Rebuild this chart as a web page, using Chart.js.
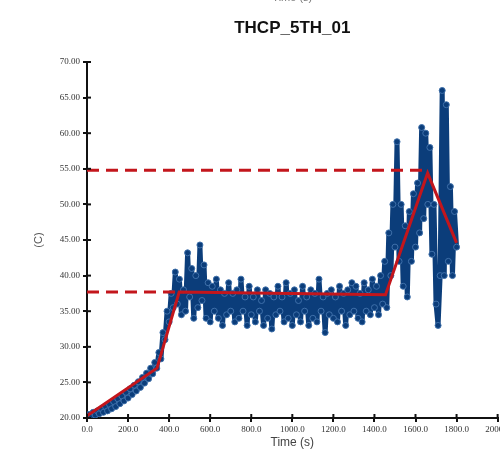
<!DOCTYPE html>
<html>
<head>
<meta charset="utf-8">
<script src="https://cdn.jsdelivr.net/npm/chart.js@4"></script>
<style>
  html, body { margin: 0; padding: 0; background: #fff; overflow: hidden; }
  #wrap { width: 512px; height: 450px; }
</style>
</head>
<body>
<div id="wrap"><canvas id="c" width="512" height="450"></canvas></div>
<script>
// THCP_5TH_01 temperature trace (time in s, temp in C)
const timeS = [
  0, 10, 20, 30, 40, 50, 60, 70, 80, 90, 100, 110, 120, 130, 140, 150, 160, 170, 180, 190,
  200, 210, 220, 230, 240, 250, 260, 270, 280, 290, 300, 310, 320, 330, 340, 350, 360, 370, 380, 390,
  400, 410, 420, 430, 440, 450, 460, 470, 480, 490, 500, 510, 520, 530, 540, 550, 560, 570, 580, 590,
  600, 610, 620, 630, 640, 650, 660, 670, 680, 690, 700, 710, 720, 730, 740, 750, 760, 770, 780, 790,
  800, 810, 820, 830, 840, 850, 860, 870, 880, 890, 900, 910, 920, 930, 940, 950, 960, 970, 980, 990,
  1000, 1010, 1020, 1030, 1040, 1050, 1060, 1070, 1080, 1090, 1100, 1110, 1120, 1130, 1140, 1150, 1160, 1170, 1180, 1190,
  1200, 1210, 1220, 1230, 1240, 1250, 1260, 1270, 1280, 1290, 1300, 1310, 1320, 1330, 1340, 1350, 1360, 1370, 1380, 1390,
  1400, 1410, 1420, 1430, 1440, 1450, 1460, 1470, 1480, 1490, 1500, 1510, 1520, 1530, 1540, 1550, 1560, 1570, 1580, 1590,
  1600, 1610, 1620, 1630, 1640, 1650, 1660, 1670, 1680, 1690, 1700, 1710, 1720, 1730, 1740, 1750, 1760, 1770, 1780, 1790,
  1800
];
const tempC = [
  20.2, 20.5, 20.2, 20.8, 20.4, 21.0, 20.6, 21.3, 20.8, 21.6, 21.0, 21.9, 21.3, 22.3, 21.6, 22.7, 22.0, 23.1, 22.4, 23.6,
  22.8, 24.1, 23.3, 24.6, 23.8, 25.1, 24.3, 25.7, 24.9, 26.3, 25.5, 27.0, 26.2, 27.8, 27.0, 29.2, 28.3, 32.0, 31.0, 35.0,
  33.5, 37.5, 35.5, 40.5, 36.0, 39.5, 34.5, 38.0, 35.0, 43.2, 37.0, 41.0, 34.0, 40.0, 35.5, 44.3, 36.5, 41.5, 34.0, 39.0,
  33.5, 38.5, 35.0, 39.5, 34.0, 38.0, 33.0, 37.5, 34.5, 39.0, 35.0, 37.5, 33.5, 38.0, 34.0, 39.5, 35.0, 37.0, 33.0, 38.5,
  34.5, 37.0, 33.5, 38.0, 35.0, 36.5, 33.0, 38.0, 34.0, 37.5, 32.5, 37.0, 34.5, 38.5, 35.0, 37.0, 33.5, 39.0, 34.0, 37.5,
  33.0, 38.0, 34.5, 36.5, 33.5, 38.5, 35.0, 37.0, 33.0, 38.0, 34.0, 37.5, 33.5, 39.5, 35.0, 37.0, 32.0, 37.5, 34.5, 38.0,
  34.0, 37.0, 33.5, 38.5, 35.0, 37.5, 33.0, 38.0, 34.5, 39.0, 35.0, 38.5, 34.0, 37.5, 33.5, 39.0, 35.0, 38.0, 34.5, 39.5,
  35.5, 38.5, 34.5, 40.0, 36.0, 42.0, 35.5, 46.0, 40.0, 50.0, 44.0, 58.8, 42.0, 50.0, 38.5, 47.0, 37.0, 49.0, 42.0, 51.5,
  44.0, 53.0, 46.0, 60.8, 48.0, 60.0, 50.0, 58.0, 43.0, 50.0, 36.0, 33.0, 40.0, 66.0, 40.0, 64.0, 42.0, 52.5, 40.0, 49.0,
  44.0
];

// piecewise fit (red) and the two reference levels (dashed)
const fitT = [0, 341, 449, 1454, 1659, 1800];
const fitC = [20.3, 27.0, 37.7, 37.3, 54.4, 44.6];
const upperT = [0, 1650];
const upperC = [54.8, 54.8];
const lowerT = [0, 445];
const lowerC = [37.7, 37.7];

const xTicks = [0, 200, 400, 600, 800, 1000, 1200, 1400, 1600, 1800, 2000];
const yTicks = [20, 25, 30, 35, 40, 45, 50, 55, 60, 65, 70];

const pts = (xs, ys) => xs.map((x, i) => ({ x, y: ys[i] }));

const RED = "#c3161c";
const BLUE = "#0b3d7a";

// title (centred on the plot area) + inner half of the cross ticks
const extras = {
  id: "extras",
  afterDraw(chart) {
    const { ctx, chartArea: a, scales } = chart;
    ctx.save();
    ctx.strokeStyle = "#111";
    ctx.lineWidth = 2;
    scales.x.ticks.forEach((t) => {
      const px = scales.x.getPixelForValue(t.value);
      ctx.beginPath();
      ctx.moveTo(px, a.bottom);
      ctx.lineTo(px, a.bottom - 4);
      ctx.stroke();
    });
    scales.y.ticks.forEach((t) => {
      const py = scales.y.getPixelForValue(t.value);
      ctx.beginPath();
      ctx.moveTo(a.left, py);
      ctx.lineTo(a.left + 4, py);
      ctx.stroke();
    });
    const cx = (a.left + a.right) / 2;
    ctx.textAlign = "center";
    ctx.textBaseline = "middle";
    ctx.fillStyle = "#111";
    ctx.font = "bold 17px 'Liberation Sans', Arial, sans-serif";
    ctx.fillText("THCP_5TH_01", cx, 28);
    ctx.fillStyle = "#777";
    ctx.font = "11px 'Liberation Sans', Arial, sans-serif";
    ctx.fillText("Time (s)", cx, -2);
    ctx.restore();
  },
};

new Chart(document.getElementById("c"), {
  type: "line",
  data: {
    datasets: [
      {
        data: pts(fitT, fitC),
        borderColor: RED,
        borderWidth: 3,
        pointRadius: 0,
        tension: 0,
      },
      {
        data: pts(upperT, upperC),
        borderColor: RED,
        borderWidth: 3,
        borderDash: [12, 7],
        pointRadius: 0,
      },
      {
        data: pts(lowerT, lowerC),
        borderColor: RED,
        borderWidth: 3,
        borderDash: [12, 7],
        pointRadius: 0,
      },
      {
        data: pts(timeS, tempC),
        borderColor: BLUE,
        borderWidth: 5,
        borderJoinStyle: "round",
        pointRadius: 3,
        pointBackgroundColor: BLUE,
        pointBorderColor: "#3f70aa",
        pointBorderWidth: 1,
        tension: 0,
      },
    ],
  },
  options: {
    responsive: false,
    animation: false,
    layout: { padding: { left: 0, top: 62, right: 0, bottom: 0 } },
    plugins: { legend: { display: false }, tooltip: { enabled: false } },
    scales: {
      x: {
        type: "linear",
        min: 0,
        max: 2000,
        afterBuildTicks: (s) => { s.ticks = xTicks.map((v) => ({ value: v })); },
        afterFit: (s) => { s.height = 32; },
        border: { color: "#111", width: 2 },
        grid: { drawOnChartArea: false, drawTicks: true, tickLength: 4, color: "#111", lineWidth: 2 },
        ticks: {
          autoSkip: false,
          maxRotation: 0,
          padding: 2,
          color: "#333",
          font: { family: "'Liberation Serif', serif", size: 9 },
          callback: (v) => v.toFixed(1),
        },
        title: {
          display: true,
          text: "Time (s)",
          color: "#444",
          padding: 0,
          font: { family: "'Liberation Sans', Arial, sans-serif", size: 12 },
        },
      },
      y: {
        min: 20,
        max: 70,
        afterBuildTicks: (s) => { s.ticks = yTicks.map((v) => ({ value: v })); },
        afterFit: (s) => { s.width = 87; },
        border: { color: "#111", width: 2 },
        grid: { drawOnChartArea: false, drawTicks: true, tickLength: 4, color: "#111", lineWidth: 2 },
        ticks: {
          padding: 3,
          color: "#333",
          font: { family: "'Liberation Serif', serif", size: 9 },
          callback: (v) => v.toFixed(2),
        },
        title: {
          display: true,
          text: "(C)",
          color: "#555",
          padding: { top: 32 },
          font: { family: "'Liberation Sans', Arial, sans-serif", size: 11 },
        },
      },
    },
  },
  plugins: [extras],
});
</script>
</body>
</html>
